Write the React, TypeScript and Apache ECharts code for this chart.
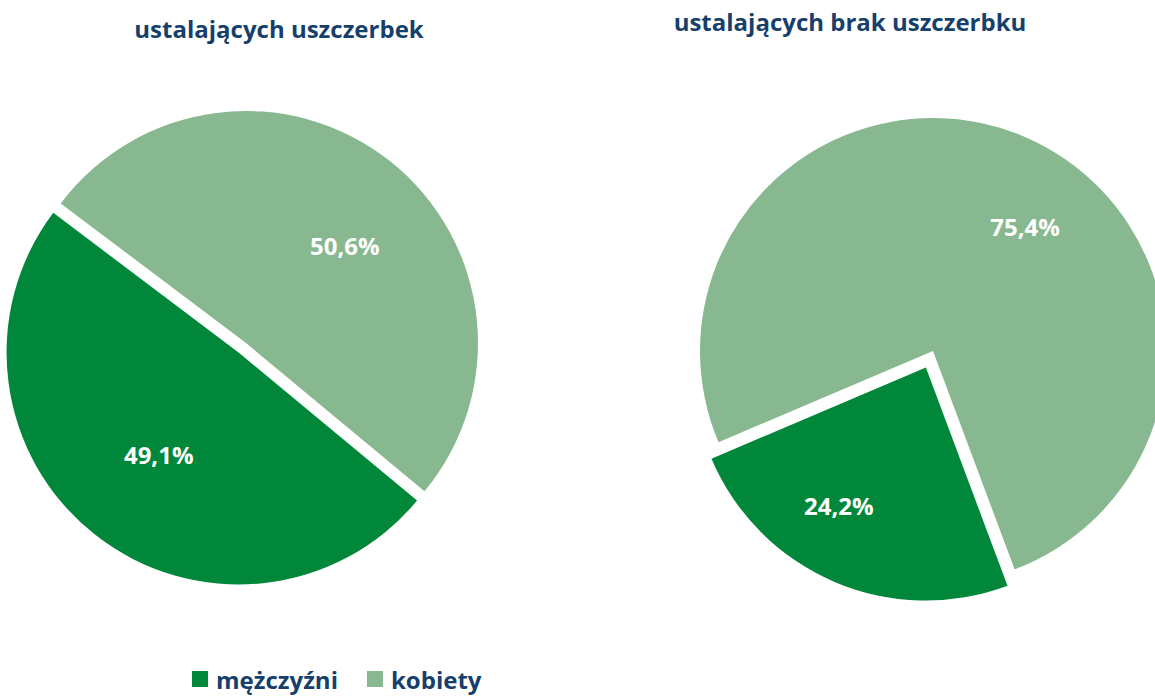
import React, { useEffect, useRef } from "react";
import * as echarts from "echarts";

const categories = ["mężczyźni", "kobiety"];
const leftTitle = "ustalających uszczerbek";
const rightTitle = "ustalających brak uszczerbku";
const leftValues = [49.1, 50.6];
const rightValues = [24.2, 75.4];
const colors = ["#00873A", "#88B88F"];
const navy = "#173F6B";
const font = "Open Sans";

const leftLabelShift = [[-6, 9], [25, -4]];
const rightLabelShift = [[-40, 28], [45, -15]];

function fmt(v: number) {
  return v.toFixed(1).replace(".", ",") + "%";
}

export default function App() {
  const ref = useRef<HTMLDivElement>(null);
  useEffect(() => {
    if (!ref.current) return;
    const chart = echarts.init(ref.current, null, { renderer: "svg" });
    const mk = (values: number[], center: number[], r: number, start: number, offset: number, shifts: number[][]) => ({
      type: "pie",
      center,
      radius: [0, r],
      startAngle: start,
      clockwise: true,
      selectedMode: true,
      selectedOffset: offset,
      emphasis: { disabled: true },
      label: {
        show: true,
        position: "inner",
        formatter: (p: any) => fmt(p.value),
        color: "#ffffff",
        fontFamily: font,
        fontWeight: "bold",
        fontSize: 24,
      },
      labelLine: { show: false },
      labelLayout: (p: any) => ({ dx: shifts[p.dataIndex][0], dy: shifts[p.dataIndex][1] }),
      data: categories.map((n, i) => ({
        name: n,
        value: values[i],
        selected: i === 0,
        itemStyle: { color: colors[i] },
      })),
    });
    chart.setOption({
      animation: false,
      title: [
        {
          text: leftTitle,
          left: 274,
          top: 11,
          textAlign: "center",
          textStyle: { color: navy, fontFamily: font, fontWeight: "bold", fontSize: 24 },
        },
        {
          text: rightTitle,
          left: 845,
          top: 4,
          textAlign: "center",
          textStyle: { color: navy, fontFamily: font, fontWeight: "bold", fontSize: 24 },
        },
      ],
      legend: {
        data: categories,
        bottom: 1,
        left: 187,
        itemWidth: 16,
        itemHeight: 16,
        itemGap: 29,
        icon: "rect",
        textStyle: { color: navy, fontFamily: font, fontWeight: "bold", fontSize: 24, padding: [0, 0, 0, 3] },
      },
      series: [
        mk(leftValues, [246, 343], 232, 320.3, 12, leftLabelShift),
        mk(rightValues, [933, 351], 233, 290.5, 18, rightLabelShift),
      ],
    });
    return () => chart.dispose();
  }, []);
  return (
    <div
      ref={ref}
      style={{ position: "fixed", left: 0, top: 0, width: 1155, height: 697, background: "#ffffff" }}
    />
  );
}
